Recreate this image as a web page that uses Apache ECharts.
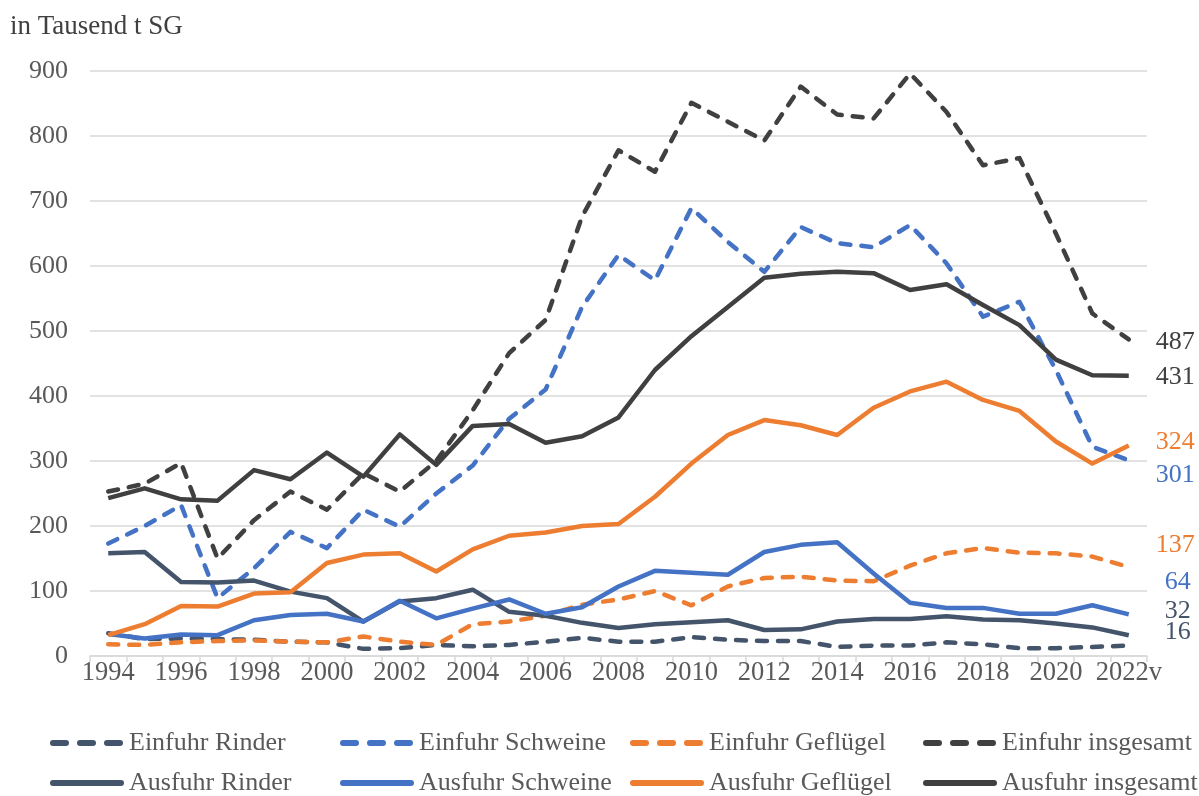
<!DOCTYPE html>
<html>
<head>
<meta charset="utf-8">
<script src="https://cdn.jsdelivr.net/npm/echarts@6/dist/echarts.min.js"></script>
<style>
html,body{margin:0;padding:0;background:#fff;}
#chart{width:1199px;height:796px;}
</style>
</head>
<body>
<div id="chart"></div>
<script>
// ---- data ----
const years = ['1994','1995','1996','1997','1998','1999','2000','2001','2002','2003','2004','2005','2006','2007','2008','2009','2010','2011','2012','2013','2014','2015','2016','2017','2018','2019','2020','2021','2022v'];
const yTicks = [0,100,200,300,400,500,600,700,800,900];

const einfuhrRinder    = [35, 26, 27, 26, 25, 22, 21, 11, 12, 17, 15, 17, 22, 28, 22, 22, 29, 25, 23, 23, 14, 16, 16, 21, 18, 12, 12, 14, 16];
const einfuhrSchweine  = [173, 200, 232, 89, 135, 191, 166, 225, 199, 250, 293, 365, 410, 537, 617, 578, 689, 637, 591, 660, 635, 629, 663, 604, 522, 545, 440, 322, 301];
const einfuhrGefluegel = [18, 17, 21, 23, 24, 22, 21, 30, 22, 17, 49, 53, 62, 79, 87, 100, 78, 107, 120, 122, 116, 115, 139, 158, 166, 159, 158, 153, 137];
const einfuhrGesamt    = [253, 265, 297, 150, 209, 253, 225, 281, 253, 300, 378, 466, 517, 676, 778, 745, 851, 822, 793, 876, 833, 827, 896, 837, 755, 766, 650, 527, 487];
const ausfuhrRinder    = [158, 160, 114, 113, 116, 99, 89, 53, 84, 89, 102, 68, 62, 51, 43, 49, 52, 55, 40, 41, 53, 57, 57, 61, 56, 55, 50, 44, 32];
const ausfuhrSchweine  = [34, 27, 33, 32, 55, 63, 65, 53, 85, 58, 73, 87, 65, 75, 107, 131, 128, 125, 160, 171, 175, 127, 82, 74, 74, 65, 65, 78, 64];
const ausfuhrGefluegel = [32, 49, 77, 76, 96, 98, 143, 156, 158, 130, 164, 185, 190, 200, 203, 245, 296, 340, 363, 355, 340, 382, 407, 422, 394, 377, 330, 296, 324];
const ausfuhrGesamt    = [243, 258, 241, 239, 286, 272, 313, 276, 341, 294, 354, 357, 328, 338, 367, 440, 492, 537, 582, 588, 591, 589, 563, 572, 540, 509, 456, 432, 431];

const seriesNames = ['Einfuhr Rinder','Einfuhr Schweine','Einfuhr Geflügel','Einfuhr insgesamt','Ausfuhr Rinder','Ausfuhr Schweine','Ausfuhr Geflügel','Ausfuhr insgesamt'];
const seriesData = [einfuhrRinder, einfuhrSchweine, einfuhrGefluegel, einfuhrGesamt, ausfuhrRinder, ausfuhrSchweine, ausfuhrGefluegel, ausfuhrGesamt];

// ---- styles ----
const FONT = '"Liberation Serif", "Times New Roman", serif';
const colors = ['#44546A','#4472C4','#ED7D31','#404040','#44546A','#4472C4','#ED7D31','#404040'];
const dashed = [true,true,true,true,false,false,false,false];
// end label offsets [dx, dy]
const labelOffsets = [[9,-13],[0,15],[0,-22],[0,3],[9,-24],[9,-32],[0,-3],[0,1]];
// legend placement
const legendLeft = [50, 340, 630, 923];
const legendTop = [730, 770];

const series = seriesNames.map((name, i) => ({
  name: name,
  type: 'line',
  data: seriesData[i],
  symbol: 'none',
  smooth: false,
  z: 2 + i,
  lineStyle: {
    color: colors[i],
    width: 4.5,
    type: dashed[i] ? [10, 11] : 'solid',
    cap: dashed[i] ? 'round' : 'butt',
    join: 'round'
  },
  itemStyle: { color: colors[i] },
  endLabel: {
    show: true,
    formatter: p => String(p.value),
    color: colors[i],
    fontFamily: FONT,
    fontSize: 26,
    distance: 27,
    offset: labelOffsets[i]
  }
}));

const legends = seriesNames.map((name, i) => ({
  data: [name],
  left: legendLeft[i % 4],
  top: legendTop[Math.floor(i / 4)],
  padding: 0,
  itemWidth: 68,
  itemHeight: 14,
  itemGap: 0,
  itemStyle: { opacity: 0, borderWidth: 0 },
  lineStyle: dashed[i]
    ? { width: 6, type: [13, 14], cap: 'round' }
    : { width: 6, type: 'solid', cap: 'round' },
  textStyle: { fontFamily: FONT, fontSize: 26, color: '#595959', padding: [0,0,0,3] }
}));

const chart = echarts.init(document.getElementById('chart'), null, { renderer: 'canvas' });
chart.setOption({
  animation: false,
  backgroundColor: '#ffffff',
  title: {
    text: 'in Tausend t SG',
    left: 10,
    top: 13,
    padding: 0,
    textStyle: { fontFamily: FONT, fontSize: 27, fontWeight: 'normal', color: '#404040' }
  },
  legend: legends,
  grid: { left: 90, right: 52, top: 71, bottom: 140, containLabel: false },
  xAxis: {
    type: 'category',
    data: years,
    boundaryGap: true,
    axisLine: { show: true, lineStyle: { color: '#D9D9D9', width: 1.5 } },
    axisTick: { show: true, interval: 0, alignWithLabel: false, length: 6, lineStyle: { color: '#D9D9D9', width: 1.5 } },
    axisLabel: { interval: 1, margin: 4, fontFamily: FONT, fontSize: 26.5, color: '#595959' },
    splitLine: { show: false }
  },
  yAxis: {
    type: 'value',
    min: yTicks[0],
    max: yTicks[yTicks.length - 1],
    interval: yTicks[1] - yTicks[0],
    axisLine: { show: false },
    axisTick: { show: false },
    axisLabel: { margin: 22, fontFamily: FONT, fontSize: 26, color: '#595959' },
    splitLine: { show: true, lineStyle: { color: '#D9D9D9', width: 1.5 } }
  },
  series: series
});
</script>
</body>
</html>
